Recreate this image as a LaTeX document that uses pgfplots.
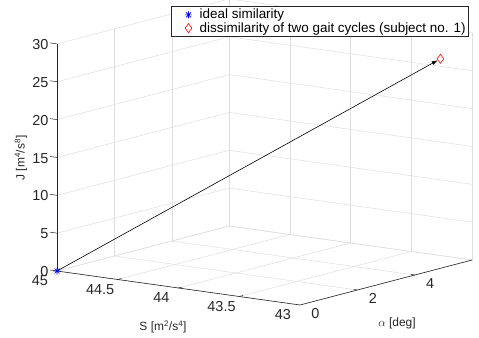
\documentclass[border=0pt]{standalone}
\usepackage{fontspec}
\setmainfont{Liberation Sans}
\usepackage{pgfplots}
\pgfplotsset{compat=1.18}
\usetikzlibrary{arrows.meta}
\definecolor{gridc}{RGB}{222,222,222}
\definecolor{axc}{RGB}{38,38,38}
\pgfdeclareplotmark{mstar}{%
 \pgfpathmoveto{\pgfqpoint{-\pgfplotmarksize}{0pt}}\pgfpathlineto{\pgfqpoint{\pgfplotmarksize}{0pt}}%
 \pgfpathmoveto{\pgfqpoint{0pt}{-\pgfplotmarksize}}\pgfpathlineto{\pgfqpoint{0pt}{\pgfplotmarksize}}%
 \pgfpathmoveto{\pgfqpoint{-.707\pgfplotmarksize}{-.707\pgfplotmarksize}}\pgfpathlineto{\pgfqpoint{.707\pgfplotmarksize}{.707\pgfplotmarksize}}%
 \pgfpathmoveto{\pgfqpoint{-.707\pgfplotmarksize}{.707\pgfplotmarksize}}\pgfpathlineto{\pgfqpoint{.707\pgfplotmarksize}{-.707\pgfplotmarksize}}%
 \pgfusepathqstroke}
\begin{document}
\begin{tikzpicture}
% x = alpha [deg], y = S [m^2/s^4], z = J [m^4/s^8]
\begin{axis}[
 x={(28.7bp,7.5bp)}, y={(-121.5bp,17bp)}, z={(0bp,7.57bp)},
 xmin=0,xmax=6,ymin=43,ymax=45,zmin=0,zmax=30,
 xtick={0,2,4,6}, xticklabels={0,2,4,{}},
 ytick={43,43.5,44,44.5,45}, ztick={0,5,...,30},
 grid=major, major grid style={gridc, line width=0.5bp},
 axis line style={draw=none},
 major tick length=0pt,
 tick style={draw=none},
 clip=false,
 /pgf/number format/assume math mode=true,
 ticklabel style={font=\fontsize{14.5}{16}\selectfont, text=axc},
 xticklabel style={xshift=8bp},
 yticklabel style={xshift=-10bp},
 zticklabel style={xshift=-5bp},
 every axis x label/.style={at={(axis cs:0,45,0)}, anchor=center, xshift=340bp, yshift=-52bp, font=\fontsize{12}{14}\selectfont, text=axc},
 every axis y label/.style={at={(axis cs:0,45,0)}, anchor=center, xshift=106bp, yshift=-56bp, font=\fontsize{12}{14}\selectfont, text=axc},
 every axis z label/.style={at={(axis cs:0,45,0)}, anchor=center, xshift=-36bp, yshift=113bp, rotate=90, font=\fontsize{12}{14}\selectfont, text=axc},
 xlabel={$\alpha$ [deg]},
 ylabel={S [m\textsuperscript{2}/s\textsuperscript{4}]},
 zlabel={J [m\textsuperscript{4}/s\textsuperscript{8}]},
 legend style={at={(axis cs:0,45,0)}, anchor=north west, xshift=114bp, yshift=265bp,
   draw=axc, line width=0.5bp, font=\fontsize{13.5}{14}\selectfont, inner sep=2bp,
   nodes={inner sep=1bp}, column sep=0pt, row sep=0pt},
 legend image code/.code={\path (-3bp,0bp) (22bp,0bp); \draw plot coordinates {(12bp,0bp)};},
 legend cell align=left,
]
\coordinate (O) at (axis cs:0,45,0);
% axis lines
\addplot3[axc, line width=0.6bp, forget plot] coordinates {(0,45,0) (0,43,0) (6,43,0)};
\addplot3[axc, line width=0.6bp, forget plot] coordinates {(0,45,0) (0,45,30)};
% tick marks
\pgfplotsinvokeforeach{0,5,10,15,20,25,30}{%
  \addplot3[axc, line width=0.5bp, forget plot] coordinates {(0,45,#1) (0,45.058,#1)};}
\pgfplotsinvokeforeach{43.5,44,44.5}{%
  \addplot3[axc, line width=0.5bp, forget plot] coordinates {(0,#1,0) (0.13,#1,0)};}
\pgfplotsinvokeforeach{2,4}{%
  \addplot3[axc, line width=0.5bp, forget plot] coordinates {(#1,43,0) (#1,43.03,0)};}
% data
\addplot3[black, line width=0.6bp, -{Latex[length=6bp,width=4bp]}, shorten >=3bp, forget plot] coordinates {(0,45,0) (5.4,43.12,26.9)};
\addplot3[only marks, mark=mstar, blue, mark size=3.5bp, mark options={line width=0.6bp}] coordinates {(0,45,0)};
\addlegendentry{ideal similarity}
\addplot3[only marks, mark=diamond, red, mark size=4.5bp, mark options={line width=0.6bp}] coordinates {(5.4,43.12,26.9)};
\addlegendentry{dissimilarity of two gait cycles (subject no. 1)}
\end{axis}
\pgfresetboundingbox
\path[use as bounding box] (O) ++(-57bp,-67bp) rectangle ++(479bp,338bp);
\end{tikzpicture}
\end{document}
